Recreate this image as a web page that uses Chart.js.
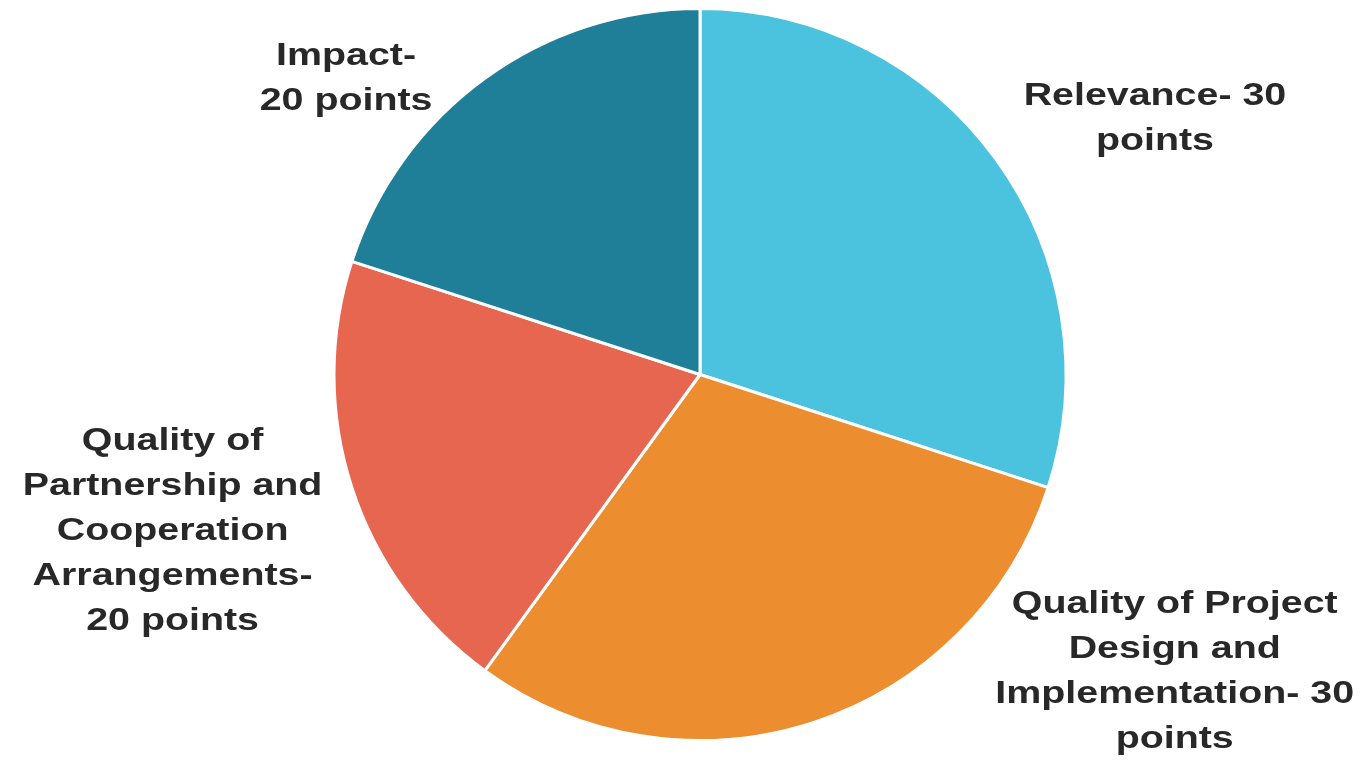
<!DOCTYPE html>
<html>
<head>
<meta charset="utf-8">
<script src="https://cdn.jsdelivr.net/npm/chart.js@4"></script>
<style>
  html, body { margin: 0; padding: 0; background: #ffffff; }
  #wrap { width: 1361px; height: 760px; }
</style>
</head>
<body>
<div id="wrap"><canvas id="pie" width="1361" height="760"></canvas></div>
<script>
const categories = [
    "Relevance",
    "Quality of Project Design and Implementation",
    "Quality of Partnership and Cooperation Arrangements",
    "Impact"
];
const points = [30, 30, 20, 20];
const sliceColors = ["#4bc3df", "#ec8d2f", "#e6664f", "#1f7f99"];

// label text as it is broken on the slide
const labelLines = [
    ["Relevance- 30", "points"],
    ["Quality of Project", "Design and", "Implementation- 30", "points"],
    ["Quality of", "Partnership and", "Cooperation", "Arrangements-", "20 points"],
    ["Impact-", "20 points"]
];
// where each label block sits, in pie radii from the centre
const labelOffsets = [
    [1.243, -0.698],
    [1.297, 0.812],
    [-1.441, 0.428],
    [-0.967, -0.809]
];

const outsideLabels = {
    id: "outsideLabels",
    afterDatasetsDraw(chart) {
        var ctx = chart.ctx;
        var arcs = chart.getDatasetMeta(0).data;
        var lineHeight = 45;
        var stretch = 1.23; // the slide text is drawn wider than normal
        arcs.forEach((arc, i) => {
            var r = arc.outerRadius;
            var cx = arc.x + labelOffsets[i][0] * r;
            var cy = arc.y + labelOffsets[i][1] * r;
            var lines = labelLines[i];
            var top = cy - (lines.length - 1) * lineHeight / 2;
            ctx.save();
            ctx.translate(cx, 0);
            ctx.scale(stretch, 1);
            ctx.font = "bold 32px 'Liberation Sans', Arial, sans-serif";
            ctx.fillStyle = "#282828";
            ctx.textAlign = "center";
            ctx.textBaseline = "middle";
            lines.forEach((line, j) => {
                ctx.fillText(line, 0, top + j * lineHeight);
            });
            ctx.restore();
        });
    }
};

window.onload = function() {
    var chart = document.getElementById("pie").getContext("2d");
    new Chart(chart, {
        type: "pie",
        data: {
            labels: categories,
            datasets: [{
                data: points,
                backgroundColor: sliceColors,
                borderColor: "#ffffff",
                borderWidth: 3
            }]
        },
        options: {
            responsive: false,
            animation: false,
            layout: { padding: { left: 39, right: 0, top: 7, bottom: 18 } },
            plugins: {
                legend: { display: false },
                tooltip: { enabled: false }
            }
        },
        plugins: [outsideLabels]
    });
}
</script>
</body>
</html>
